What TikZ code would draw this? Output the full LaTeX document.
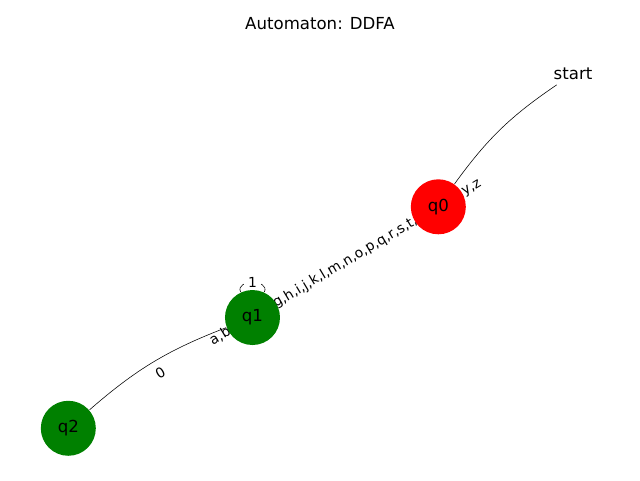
\documentclass[tikz,border=0pt]{standalone}
\usepackage{fontspec}
\setmainfont{DejaVu Sans}
\usetikzlibrary{backgrounds}
\definecolor{nxgreen}{RGB}{0,128,0}
\begin{document}
\begin{tikzpicture}[
    stnode/.style={circle, minimum size=1.375cm, inner sep=0pt, font=\fontsize{11.8}{14}\selectfont},
    elabel/.style={sloped, fill=white, inner sep=2.8pt, font=\fontsize{9.85}{12}\selectfont},
    line width=0.95pt
  ]
        \useasboundingbox (0,0) rectangle (16,12);
        \node[anchor=base, font=\fontsize{11.8}{14}\selectfont] (title) at (8,11.27) {Automaton: DDFA};

        \node[stnode, fill=red] (q0) at (10.958,6.83) {q0};
        \node[stnode, fill=nxgreen] (q1) at (6.312,4.062) {q1};
        \node[stnode, fill=nxgreen] (q2) at (1.708,1.293) {q2};
        \node[font=\fontsize{11.8}{14}\selectfont] (start) at (14.325,10.16) {start};

        \begin{scope}[on background layer]
            \draw (start) to[bend right=10] (q0);
            \draw (q1) -- (q0) node[midway, elabel] {a,b,c,d,e,f,g,h,i,j,k,l,m,n,o,p,q,r,s,t,u,v,w,x,y,z};
            \draw (q1) to[bend right=10] (q2);
            \path (q1) -- (q2) node[midway, elabel] {0};
            \draw (q1.115) .. controls +(115:0.35) and +(65:0.35) .. (q1.65) node[midway, elabel] {1};
        \end{scope}
\end{tikzpicture}
\end{document}
